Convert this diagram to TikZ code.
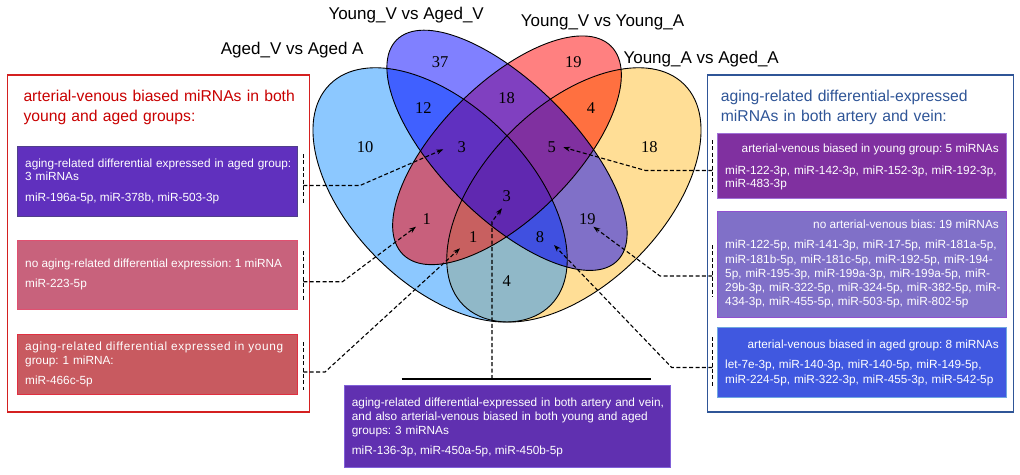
\documentclass[tikz,border=0pt]{standalone}
\usepackage{fontspec}
\setmainfont{Liberation Sans}
\newfontfamily\vennnum{Liberation Serif}
\newfontfamily\widesans[LetterSpace=5.5]{Liberation Sans}
\usetikzlibrary{arrows.meta}
\frenchspacing
\definecolor{fA}{HTML}{8CC8FF}
\definecolor{fB}{HTML}{8080FF}
\definecolor{fC}{HTML}{FF8080}
\definecolor{fD}{HTML}{FFDE96}
\definecolor{fAB}{HTML}{4060FF}
\definecolor{fAC}{HTML}{C8607C}
\definecolor{fAD}{HTML}{90B8C8}
\definecolor{fBC}{HTML}{8040C0}
\definecolor{fBD}{HTML}{8070C8}
\definecolor{fCD}{HTML}{FF7040}
\definecolor{fABC}{HTML}{6030C0}
\definecolor{fABD}{HTML}{4050E0}
\definecolor{fACD}{HTML}{C86060}
\definecolor{fBCD}{HTML}{8030A0}
\definecolor{fABCD}{HTML}{6028B0}
\definecolor{redframe}{HTML}{D42020}
\definecolor{redtitle}{HTML}{C80000}
\definecolor{blueframe}{HTML}{2F5597}
\definecolor{bluetitle}{HTML}{2F5597}
\definecolor{bxLa}{HTML}{6030BE}
\definecolor{bxLaD}{HTML}{50408A}
\definecolor{bxLb}{HTML}{C8627C}
\definecolor{bxLbD}{HTML}{E05070}
\definecolor{bxLc}{HTML}{C85A60}
\definecolor{bxLcD}{HTML}{E03040}
\definecolor{bxRa}{HTML}{8030A0}
\definecolor{bxRaD}{HTML}{A070D8}
\definecolor{bxRb}{HTML}{8070C8}
\definecolor{bxRbD}{HTML}{9050D0}
\definecolor{bxRc}{HTML}{4058E0}
\definecolor{bxRcD}{HTML}{70A8E0}
\definecolor{bxBo}{HTML}{6030B0}
\definecolor{bxBoD}{HTML}{8060D8}
\tikzset{
  eA/.style={rotate around={135:(oA)}, x radius=156.1, y radius=89.2},
  eB/.style={rotate around={135:(oB)}, x radius=156.1, y radius=66.9},
  eC/.style={rotate around={45:(oC)}, x radius=147.2, y radius=66.9},
  eD/.style={rotate around={45:(oD)}, x radius=156.1, y radius=89.2},
  outline/.style={draw=black, line width=0.9pt},
  num/.style={font=\vennnum\fontsize{16.5}{18}\selectfont, anchor=base, inner sep=0pt},
  setlab/.style={font=\fontsize{17}{20}\selectfont, anchor=base west, inner sep=0pt},
  frame/.style={line width=1.5pt, anchor=north west, inner sep=0pt, rectangle},
  infobox/.style={rectangle, anchor=north west, inner sep=0pt, line width=0.8pt},
  txt/.style={font=\fontsize{11.8}{13.3}\selectfont, text=white, inner sep=0pt, anchor=base west},
  mtxt/.style={txt, text width=#1, align=left},
  ttl/.style={font=\fontsize{15.7}{20}\selectfont, inner sep=0pt, anchor=base west, text width=280pt, align=left},
  brk/.style={draw=black, line width=1.1pt, dash pattern=on 4pt off 2.4pt},
  conn/.style={brk, -{Stealth[length=7pt,width=5pt]}},
  rule/.style={draw=black, line width=1.5pt}
}
\begin{document}
\begin{tikzpicture}[x=1pt,y=-1pt]
\useasboundingbox (0,0) rectangle (1020,474);
\coordinate (oA) at (440.1,194.9);
\coordinate (oB) at (507,150.3);
\coordinate (oC) at (507,150.3);
\coordinate (oD) at (573.9,194.9);
% single sets
\fill[fA,eA] (oA) ellipse;
\fill[fD,eD] (oD) ellipse;
\fill[fB,eB] (oB) ellipse;
\fill[fC,eC] (oC) ellipse;
% pairs
\begin{scope}\clip[eA] (oA) ellipse; \fill[fAB,eB] (oB) ellipse;\end{scope}
\begin{scope}\clip[eA] (oA) ellipse; \fill[fAC,eC] (oC) ellipse;\end{scope}
\begin{scope}\clip[eA] (oA) ellipse; \fill[fAD,eD] (oD) ellipse;\end{scope}
\begin{scope}\clip[eB] (oB) ellipse; \fill[fBC,eC] (oC) ellipse;\end{scope}
\begin{scope}\clip[eB] (oB) ellipse; \fill[fBD,eD] (oD) ellipse;\end{scope}
\begin{scope}\clip[eC] (oC) ellipse; \fill[fCD,eD] (oD) ellipse;\end{scope}
% triples
\begin{scope}\clip[eA] (oA) ellipse; \clip[eB] (oB) ellipse; \fill[fABC,eC] (oC) ellipse;\end{scope}
\begin{scope}\clip[eA] (oA) ellipse; \clip[eB] (oB) ellipse; \fill[fABD,eD] (oD) ellipse;\end{scope}
\begin{scope}\clip[eA] (oA) ellipse; \clip[eC] (oC) ellipse; \fill[fACD,eD] (oD) ellipse;\end{scope}
\begin{scope}\clip[eB] (oB) ellipse; \clip[eC] (oC) ellipse; \fill[fBCD,eD] (oD) ellipse;\end{scope}
% all four
\begin{scope}\clip[eA] (oA) ellipse; \clip[eB] (oB) ellipse; \clip[eC] (oC) ellipse; \fill[fABCD,eD] (oD) ellipse;\end{scope}
% outlines
\draw[outline,eA] (oA) ellipse;
\draw[outline,eB] (oB) ellipse;
\draw[outline,eC] (oC) ellipse;
\draw[outline,eD] (oD) ellipse;
% region counts
\node[num] (n10) at (365,152.8) {10};
\node[num] (n37) at (440,67.2) {37};
\node[num] (n19a) at (573.3,67.2) {19};
\node[num] (n18a) at (649.3,152.8) {18};
\node[num] (n12) at (423.3,113.2) {12};
\node[num] (n18b) at (506.7,103.2) {18};
\node[num] (n4a) at (591,113.2) {4};
\node[num] (n3a) at (461.7,152.8) {3};
\node[num] (n5) at (551.7,152.8) {5};
\node[num] (n1a) at (426.7,224.8) {1};
\node[num] (n3b) at (506.7,201.5) {3};
\node[num] (n19b) at (587.3,224.8) {19};
\node[num] (n1b) at (473.3,242.2) {1};
\node[num] (n8) at (540,242.2) {8};
\node[num] (n4b) at (506.7,286.2) {4};
% set labels
\node[setlab] (sA) at (220.7,54.6) {Aged\_V vs Aged A};
\node[setlab] (sB) at (328.3,19.2) {Young\_V vs Aged\_V};
\node[setlab] (sC) at (520.7,26.2) {Young\_V vs Young\_A};
\node[setlab] (sD) at (623.3,63.5) {Young\_A vs Aged\_A};
% frames
\node[frame, draw=redframe, minimum width=302pt, minimum height=337pt] (LF) at (6.7,74) {};
\node[frame, draw=blueframe, minimum width=306pt, minimum height=337pt] (RF) at (706.7,74) {};
\node[ttl, text=redtitle] (LT) at (23.3,101.8) {arterial-venous biased miRNAs in both\\young and aged groups:};
\node[ttl, text=bluetitle] (RT) at (720.7,101.8) {aging-related differential-expressed\\miRNAs in both artery and vein:};
% left boxes
\node[infobox, fill=bxLa, draw=bxLaD, minimum width=280pt, minimum height=70.6pt] (L1) at (17.3,145.7) {};
\node[infobox, fill=bxLb, draw=bxLbD, minimum width=280pt, minimum height=69pt] (L2) at (17.3,240) {};
\node[infobox, fill=bxLc, draw=bxLcD, minimum width=280pt, minimum height=60.3pt] (L3) at (17.3,334) {};
\node[mtxt=270pt] (L1h) at (25,167.1) {aging-related differential expressed in aged group:\\3 miRNAs};
\node[txt] (L1l) at (25,201.4) {miR-196a-5p, miR-378b, miR-503-3p};
\node[txt] (L2h) at (25,267.4) {no aging-related differential expression: 1 miRNA};
\node[txt] (L2l) at (25,287.1) {miR-223-5p};
\node[mtxt=270pt] (L3h) at (25,350.8) {{\widesans aging-related differential expressed in young}\\group: 1 miRNA:};
\node[txt] (L3l) at (25,384.8) {miR-466c-5p};
% right boxes
\node[infobox, fill=bxRa, draw=bxRaD, minimum width=288.7pt, minimum height=65pt] (R1) at (717.3,133.3) {};
\node[infobox, fill=bxRb, draw=bxRbD, minimum width=288.7pt, minimum height=106.3pt] (R2) at (717.3,211) {};
\node[infobox, fill=bxRc, draw=bxRcD, minimum width=288.7pt, minimum height=70.6pt] (R3) at (717.3,326.7) {};
\node[txt, anchor=base east] (R1h) at (999,152.4) {arterial-venous biased in young group: 5 miRNAs};
\node[mtxt=285pt, font=\fontsize{11.8}{13}\selectfont] (R1l) at (725,174.1) {miR-122-3p, miR-142-3p, miR-152-3p, miR-192-3p,\\miR-483-3p};
\node[txt, anchor=base east] (R2h) at (999,228.1) {no arterial-venous bias: 19 miRNAs};
\node[mtxt=285pt, font=\fontsize{11.8}{14.25}\selectfont] (R2l) at (725,248.8) {miR-122-5p, miR-141-3p, miR-17-5p, miR-181a-5p,\\miR-181b-5p, miR-181c-5p, miR-192-5p, miR-194-\\5p, miR-195-3p, miR-199a-3p, miR-199a-5p, miR-\\29b-3p, miR-322-5p, miR-324-5p, miR-382-5p, miR-\\434-3p, miR-455-5p, miR-503-5p, miR-802-5p};
\node[txt, anchor=base east] (R3h) at (999,348.1) {arterial-venous biased in aged group: 8 miRNAs};
\node[mtxt=285pt, font=\fontsize{11.8}{14.3}\selectfont] (R3l) at (725,368.8) {let-7e-3p, miR-140-3p, miR-140-5p, miR-149-5p,\\miR-224-5p, miR-322-3p, miR-455-3p, miR-542-5p};
% bottom box
\node[infobox, fill=bxBo, draw=bxBoD, minimum width=326pt, minimum height=82.3pt] (BB) at (344,385) {};
\node[mtxt=318pt, font=\fontsize{11.8}{13.8}\selectfont] (BBh) at (351.7,406.4) {aging-related differential-expressed in both artery and vein,\\and also arterial-venous biased in both young and aged\\groups: 3 miRNAs};
\node[txt] (BBl) at (351.7,454.8) {miR-136-3p, miR-450a-5p, miR-450b-5p};
% connector coordinates
\coordinate (bL1t) at (303.3,154); \coordinate (bL1b) at (303.3,204);
\coordinate (bL1m) at (303.3,185.5); \coordinate (kL1) at (360,185.5); \coordinate (tL1) at (443.3,149.3);
\coordinate (bL2t) at (303.3,251); \coordinate (bL2b) at (303.3,301);
\coordinate (bL2m) at (303.3,281.7); \coordinate (kL2) at (342.5,281.7); \coordinate (tL2) at (416,226.7);
\coordinate (bL3t) at (303.3,342); \coordinate (bL3b) at (303.3,390);
\coordinate (bL3m) at (303.3,372); \coordinate (kL3) at (325,372); \coordinate (tL3) at (460,248.3);
\coordinate (bR1t) at (712.3,140); \coordinate (bR1b) at (712.3,192);
\coordinate (bR1m) at (712.3,170.5); \coordinate (kR1) at (645.5,170.5); \coordinate (tR1) at (563.3,147.3);
\coordinate (bR2t) at (712.3,245); \coordinate (bR2b) at (712.3,297);
\coordinate (bR2m) at (712.3,276); \coordinate (kR2) at (660,276); \coordinate (tR2) at (593.3,226.7);
\coordinate (bR3t) at (712.3,337); \coordinate (bR3b) at (712.3,387);
\coordinate (bR3m) at (712.3,367.5); \coordinate (kR3) at (671.7,367.5); \coordinate (tR3) at (554,245);
\coordinate (hl1) at (401.7,379); \coordinate (hl2) at (650.7,379);
\coordinate (bBm) at (492,379); \coordinate (kB) at (492,221.7); \coordinate (tB) at (502,208.3);
% brackets and connectors
\draw[brk] (bL1t) -- (bL1b);
\draw[brk] (bL2t) -- (bL2b);
\draw[brk] (bL3t) -- (bL3b);
\draw[brk] (bR1t) -- (bR1b);
\draw[brk] (bR2t) -- (bR2b);
\draw[brk] (bR3t) -- (bR3b);
\draw[conn] (bL1m) -- (kL1) -- (tL1);
\draw[conn] (bL2m) -- (kL2) -- (tL2);
\draw[conn] (bL3m) -- (kL3) -- (tL3);
\draw[conn] (bR1m) -- (kR1) -- (tR1);
\draw[conn] (bR2m) -- (kR2) -- (tR2);
\draw[conn] (bR3m) -- (kR3) -- (tR3);
\draw[rule] (hl1) -- (hl2);
\draw[conn] (bBm) -- (kB) -- (tB);
\end{tikzpicture}
\end{document}
